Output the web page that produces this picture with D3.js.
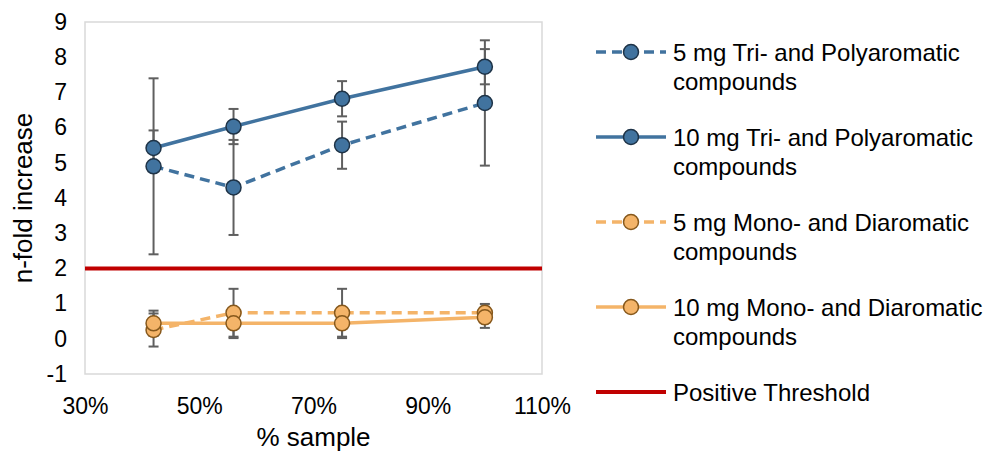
<!DOCTYPE html>
<html>
<head>
<meta charset="utf-8">
<script src="https://cdn.jsdelivr.net/npm/d3@7"></script>
<style>
  html, body { margin: 0; padding: 0; background: #fff; }
  svg { display: block; font-family: "Liberation Sans", Arial, sans-serif; }
</style>
</head>
<body>
<svg id="chart" width="984" height="453"></svg>
<script>
// ---- data ----
const sampleFractions = [42, 56, 75, 100];           // % sample
const tri5mg   = [4.90, 4.30, 5.50, 6.70];
const tri5mgErr = [2.50, 1.35, 0.67, 1.78];
const tri10mg  = [5.42, 6.03, 6.82, 7.73];
const tri10mgErr = [0.50, 0.50, 0.50, 0.50];
const mono5mg  = [0.25, 0.74, 0.74, 0.74];
const mono5mgErr = [0.47, 0.68, 0.68, 0.25];
const mono10mg = [0.44, 0.44, 0.44, 0.61];
const mono10mgErr = [0.36, 0.42, 0.42, 0.30];
const thresholdX = [30, 110];
const thresholdValue = 2;
const xTicks = [30, 50, 70, 90, 110];
const yTicks = [-1, 0, 1, 2, 3, 4, 5, 6, 7, 8, 9];
const seriesNames = [
  ["5 mg Tri- and Polyaromatic", "compounds"],
  ["10 mg Tri- and Polyaromatic", "compounds"],
  ["5 mg Mono- and Diaromatic", "compounds"],
  ["10 mg Mono- and Diaromatic", "compounds"],
  ["Positive Threshold"]
];

// ---- styles ----
const BLUE = "#41739f", BLUE_STROKE = "#1e3347";
const ORANGE = "#f4b469", ORANGE_STROKE = "#86581c";
const RED = "#c00000";
const series = [
  {vals: tri5mg,   err: tri5mgErr,   color: BLUE,   mstroke: BLUE_STROKE,   dash: "10,6"},
  {vals: tri10mg,  err: tri10mgErr,  color: BLUE,   mstroke: BLUE_STROKE,   dash: null},
  {vals: mono5mg,  err: mono5mgErr,  color: ORANGE, mstroke: ORANGE_STROKE, dash: "10,6"},
  {vals: mono10mg, err: mono10mgErr, color: ORANGE, mstroke: ORANGE_STROKE, dash: null}
];

const svg = d3.select("#chart");
const x = d3.scaleLinear().domain([30, 110]).range([85, 542]);
const y = d3.scaleLinear().domain([-1, 9]).range([374, 22]);
const FS = 23, TITLE_FS = 26, LEG_FS = 24;

// plot border
svg.append("rect")
  .attr("x", x(30)).attr("y", y(9))
  .attr("width", x(110) - x(30)).attr("height", y(-1) - y(9))
  .attr("fill", "none").attr("stroke", "#d9d9d9").attr("stroke-width", 1.5);

// axes (text only)
const yAxis = d3.axisLeft(y).tickValues(yTicks).tickSize(0).tickPadding(18).tickFormat(d => String(d));
const yg = svg.append("g").attr("transform", `translate(${x(30)},0)`).call(yAxis);
yg.select(".domain").remove();
yg.selectAll("text").attr("font-size", FS).attr("fill", "#000").attr("font-family", "Liberation Sans, Arial, sans-serif");

const xAxis = d3.axisBottom(x).tickValues(xTicks).tickSize(0).tickPadding(24).tickFormat(d => d + "%");
const xg = svg.append("g").attr("transform", `translate(0,${y(-1)})`).call(xAxis);
xg.select(".domain").remove();
xg.selectAll("text").attr("font-size", FS).attr("fill", "#000").attr("font-family", "Liberation Sans, Arial, sans-serif");

// axis titles
svg.append("text")
  .attr("transform", `translate(32,${(y(9) + y(-1)) / 2}) rotate(-90)`)
  .attr("text-anchor", "middle").attr("font-size", TITLE_FS).attr("fill", "#000")
  .text("n-fold increase");
svg.append("text")
  .attr("x", (x(30) + x(110)) / 2).attr("y", 446)
  .attr("text-anchor", "middle").attr("font-size", TITLE_FS).attr("fill", "#000")
  .text("% sample");

// error bars
const cap = 5;
series.forEach(s => {
  const g = svg.append("g").attr("stroke", "#5f5f5f").attr("stroke-width", 2);
  s.vals.forEach((v, i) => {
    const cx = x(sampleFractions[i]);
    const hi = y(v + s.err[i]), lo = y(v - s.err[i]);
    g.append("line").attr("x1", cx).attr("x2", cx).attr("y1", hi).attr("y2", lo);
    g.append("line").attr("x1", cx - cap).attr("x2", cx + cap).attr("y1", hi).attr("y2", hi);
    g.append("line").attr("x1", cx - cap).attr("x2", cx + cap).attr("y1", lo).attr("y2", lo);
  });
});

// threshold
svg.append("line")
  .attr("x1", x(thresholdX[0])).attr("x2", x(thresholdX[1]))
  .attr("y1", y(thresholdValue)).attr("y2", y(thresholdValue))
  .attr("stroke", RED).attr("stroke-width", 4);

// lines + markers
const line = d3.line().x((d, i) => x(sampleFractions[i])).y(d => y(d));
series.forEach(s => {
  svg.append("path").datum(s.vals).attr("d", line)
    .attr("fill", "none").attr("stroke", s.color).attr("stroke-width", 3.5)
    .attr("stroke-dasharray", s.dash);
});
series.forEach(s => {
  svg.append("g").selectAll("circle").data(s.vals).join("circle")
    .attr("cx", (d, i) => x(sampleFractions[i])).attr("cy", d => y(d))
    .attr("r", 7.5).attr("fill", s.color).attr("stroke", s.mstroke).attr("stroke-width", 1.5);
});

// legend
const legX0 = 596, legX1 = 666, legTextX = 673;
const rowY = [52, 137, 222, 307, 392];
const lineGap = 29;
seriesNames.forEach((names, k) => {
  const cy = rowY[k];
  const g = svg.append("g");
  if (k < 4) {
    const s = series[k];
    g.append("line").attr("x1", legX0).attr("x2", legX1).attr("y1", cy).attr("y2", cy)
      .attr("stroke", s.color).attr("stroke-width", 3.5).attr("stroke-dasharray", s.dash);
    g.append("circle").attr("cx", (legX0 + legX1) / 2).attr("cy", cy).attr("r", 7.5)
      .attr("fill", s.color).attr("stroke", s.mstroke).attr("stroke-width", 1.5);
  } else {
    g.append("line").attr("x1", legX0).attr("x2", legX1).attr("y1", cy).attr("y2", cy)
      .attr("stroke", RED).attr("stroke-width", 4);
  }
  names.forEach((t, j) => {
    g.append("text").attr("x", legTextX).attr("y", cy + j * lineGap).attr("dy", "0.36em")
      .attr("font-size", LEG_FS).attr("fill", "#000").text(t);
  });
});
</script>
</body>
</html>
